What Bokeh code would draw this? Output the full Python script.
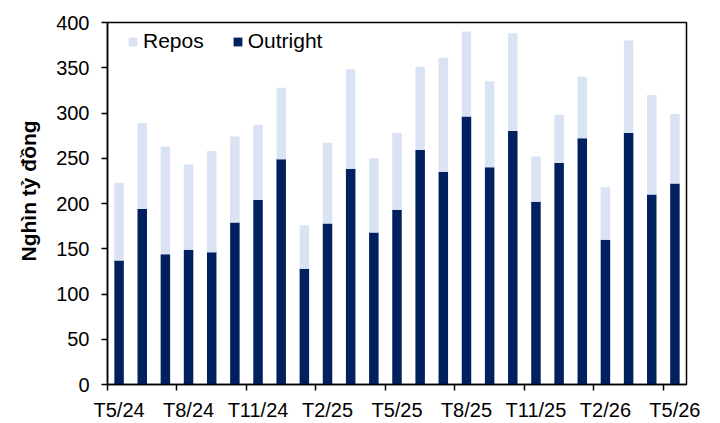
from bokeh.plotting import figure
from bokeh.models import (ColumnDataSource, Range1d, FixedTicker, Legend, LegendItem, Title)
from bokeh.embed import file_html
from bokeh.resources import INLINE

# ---- data ----
months = ["T5/24", "T6/24", "T7/24", "T8/24", "T9/24", "T10/24", "T11/24", "T12/24",
          "T1/25", "T2/25", "T3/25", "T4/25", "T5/25", "T6/25", "T7/25", "T8/25",
          "T9/25", "T10/25", "T11/25", "T12/25", "T1/26", "T2/26", "T3/26", "T4/26",
          "T5/26"]
outright = [137, 194, 144, 149, 146, 179, 204, 249, 128, 178, 238, 168, 193,
            259, 235, 296, 240, 280, 202, 245, 272, 160, 278, 210, 222]
repos = [86, 95, 119, 94, 112, 95, 83, 79, 48, 89, 110, 82, 85,
         92, 126, 94, 95, 108, 50, 53, 68, 58, 102, 110, 77]
y_ticks = [0, 50, 100, 150, 200, 250, 300, 350, 400]
label_every = 3
y_title = "Nghìn tỷ đồng"

DARK = "#002060"
LIGHT = "#DAE3F3"
FONT = "Liberation Sans"

idx = list(range(len(months)))
src = ColumnDataSource(dict(x=idx, outright=outright, repos=repos))

p = figure(width=712, height=423, output_backend="svg", toolbar_location=None,
           x_range=Range1d(-0.5, len(months) - 0.5), y_range=Range1d(0, 400),
           min_border_left=107, min_border_right=26, min_border_top=22,
           min_border_bottom=37)

rs = p.vbar_stack(["outright", "repos"], x="x", width=0.41, source=src,
                  color=[DARK, LIGHT], line_color=None)

# x axis: labels at every 3rd bar, tick marks on category boundaries
lab_pos = idx[::label_every]
bound_pos = [i - 0.5 for i in lab_pos]
p.xaxis.ticker = FixedTicker(ticks=lab_pos, minor_ticks=bound_pos)
p.xaxis.major_label_overrides = {i: months[i] for i in lab_pos}
p.xaxis.major_tick_line_color = None
p.xaxis.minor_tick_out = 6
p.xaxis.minor_tick_in = 0
p.xaxis.minor_tick_line_color = "black"
p.xaxis.minor_tick_line_width = 1.5
p.xaxis.major_label_standoff = 8

p.yaxis.ticker = FixedTicker(ticks=y_ticks)
p.yaxis.minor_tick_line_color = None
p.yaxis.major_tick_out = 6
p.yaxis.major_tick_in = 0
p.yaxis.major_tick_line_color = "black"
p.yaxis.major_tick_line_width = 1.5
p.yaxis.major_label_standoff = 12

for ax in (p.xaxis, p.yaxis):
    ax.axis_line_color = "black"
    ax.axis_line_width = 1.5
    ax.major_label_text_font = FONT
    ax.major_label_text_font_size = "20px"
    ax.major_label_text_color = "black"

p.xgrid.visible = False
p.ygrid.visible = False
p.outline_line_color = "black"
p.outline_line_width = 1.5

# y-axis title as a side title (sits slightly above the frame centre)
p.add_layout(Title(text=y_title, align="left", offset=123, standoff=27,
                   text_font=FONT, text_font_style="bold",
                   text_font_size="21px", text_color="black"), "left")

legend = Legend(items=[LegendItem(label="Repos", renderers=[rs[1]]),
                       LegendItem(label="Outright", renderers=[rs[0]])],
                orientation="horizontal", location=(20, 331),
                glyph_width=11, glyph_height=11, label_height=22,
                label_standoff=5, spacing=28, padding=0, margin=0,
                border_line_color=None, background_fill_alpha=0,
                label_text_font=FONT, label_text_font_size="21px",
                label_text_color="black")
p.add_layout(legend, "center")

open("out.html", "w").write(file_html(p, INLINE))
